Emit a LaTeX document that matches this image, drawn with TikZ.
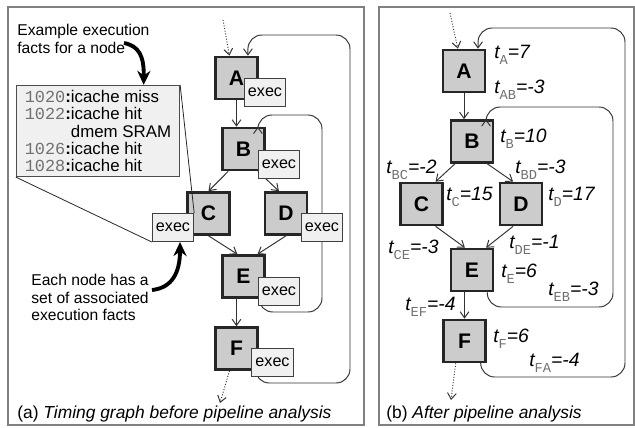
\documentclass[tikz,border=0pt]{standalone}
\usepackage{fontspec}
\setmainfont{Liberation Sans}
\setmonofont{Liberation Mono}
\usetikzlibrary{arrows.meta}
\definecolor{nodegray}{HTML}{CCCCCC}
\definecolor{execgray}{HTML}{F0F0F0}
\definecolor{framegray}{HTML}{808080}
\definecolor{subgray}{HTML}{707070}
\newcommand{\tval}[2]{\textit{t}\raisebox{-3.8pt}{\fontsize{7.8}{7.8}\selectfont\upshape\ttfamily\color{subgray}#1}\textit{=#2}}
\newcommand{\addr}[1]{{\ttfamily\color{subgray}#1}\textbf{:}}
\begin{document}
\begin{tikzpicture}[x=0.02cm, y=-0.02cm,
    frame/.style={draw=framegray, line width=0.8pt},
    blk/.style={draw=black!85, line width=1.4pt, fill=nodegray, minimum width=24pt, minimum height=24pt, inner sep=0pt, font=\fontsize{12}{12}\selectfont\bfseries},
    exe/.style={draw=black!75, line width=0.5pt, fill=execgray, minimum width=23.6pt, minimum height=16pt, inner sep=0pt, font=\fontsize{9.2}{9.2}\selectfont},
    edge/.style={draw=black!80, line width=0.55pt, -{Straight Barb[length=3.5pt,width=5pt]}},
    back/.style={edge, rounded corners=8pt},
    entry/.style={edge, densely dotted},
    tlab/.style={anchor=base west, inner sep=0pt, font=\fontsize{11}{11}\selectfont\itshape},
    note/.style={anchor=north west, inner sep=0pt, align=left, font=\fontsize{8.9}{9.9}\selectfont},
    infobox/.style={draw=black!70, line width=0.5pt, fill=execgray, minimum width=93pt, minimum height=52pt, inner sep=0pt, align=left, font=\fontsize{9.6}{9.9}\selectfont},
    callout/.style={draw=black!85, line width=0.45pt},
    hint/.style={line width=2.2pt, -{Stealth[length=8pt,width=7.5pt]}},
    caption/.style={anchor=base west, inner sep=0pt, font=\fontsize{9.9}{9.9}\selectfont}]
  \useasboundingbox (0,0) rectangle (635,427);

  % Frames
  \draw[frame] (8,7) rectangle (364,425);
  \draw[frame] (379,7) rectangle (634,425);

  % (a) Timing graph before pipeline analysis
  \node[blk] (A) at (236.5,78) {A};
  \node[blk] (B) at (243.5,149) {B};
  \node[blk] (C) at (208.5,213.5) {C};
  \node[blk] (D) at (286,213.5) {D};
  \node[blk] (E) at (243.5,276.5) {E};
  \node[blk] (F) at (236.5,348.5) {F};
  \coordinate (inA) at (223,20);
  \coordinate (outF) at (220,403);
  \coordinate (ia1) at (322,312);
  \coordinate (ia2) at (322,115);
  \coordinate (oa1) at (350,383);
  \coordinate (oa2) at (350,35);

  \draw[entry] (inA) -- ([xshift=-4pt]A.north);
  \draw[edge] (A.south) -- (A.south |- B.north);
  \draw[edge] ([xshift=4pt]B.south west) -- (C.north);
  \draw[edge] ([xshift=-4.5pt]B.south east) -- ([xshift=-4pt]D.north);
  \draw[edge] (C.south) -- ([xshift=-3.5pt]E.north);
  \draw[edge] (D.south) -- ([xshift=8pt]E.north);
  \draw[edge] (F.north |- E.south) -- (F.north);
  \draw[entry] ([xshift=-4pt]F.south) -- (outF);
  \draw[back] ([xshift=-4pt]E.south east) |- (ia1) -- (ia2) -| ([xshift=-4.5pt]B.north east);
  \draw[back] ([xshift=-2pt]F.south east) |- (oa1) -- (oa2) -| ([xshift=6.5pt]A.north);

  % execution facts
  \node[exe] (xA) at (265,92.5) {exec};
  \node[exe] (xB) at (279,164) {exec};
  \node[exe] (xC) at (173,227.5) {exec};
  \node[exe] (xD) at (322,227.5) {exec};
  \node[exe] (xE) at (279,291.5) {exec};
  \node[exe] (xF) at (272.5,362.5) {exec};

  \node[infobox] (info) at (98,131) {\addr{1020}icache miss\\
    \addr{1022}icache hit\\
    \phantom{\addr{1022}}dmem SRAM\\
    \addr{1026}icache hit\\
    \addr{1028}icache hit};
  \draw[callout] (info.north east) -- (xC.north east);
  \draw[callout] (info.south west) -- (xC.south west);

  % Annotations
  \node[note] (ex) at (17,24) {Example execution\\facts for a node};
  \coordinate (exTail) at (124,43);
  \draw[hint] (exTail) .. controls (139,46) and (144,56) .. ([xshift=26pt]info.north);
  \node[note] (each) at (31,274) {Each node has a\\set of associated\\execution facts};
  \coordinate (eachTail) at (152,290);
  \draw[hint] (eachTail) .. controls (171,288) and (180,274) .. ([xshift=4pt]xC.south);

  \node[caption] (capA) at (17,418) {(a) \textit{Timing graph before pipeline analysis}};

  % (b) After pipeline analysis
  \node[blk] (A2) at (464,71) {A};
  \node[blk] (B2) at (472,141.5) {B};
  \node[blk] (C2) at (421.5,204) {C};
  \node[blk] (D2) at (521,204) {D};
  \node[blk] (E2) at (472,270) {E};
  \node[blk] (F2) at (464.5,341) {F};
  \coordinate (inA2) at (450,13);
  \coordinate (outF2) at (451,400);
  \coordinate (ib1) at (613,307);
  \coordinate (ib2) at (613,107);
  \coordinate (ob1) at (625,377);
  \coordinate (ob2) at (625,28);

  \draw[entry] (inA2) -- ([xshift=-3.5pt]A2.north);
  \draw[edge] (A2.south) -- (A2.south |- B2.north);
  \draw[edge] ([xshift=3pt]B2.south west) -- ([xshift=8pt]C2.north);
  \draw[edge] ([xshift=-4pt]B2.south east) -- ([xshift=-4.5pt]D2.north);
  \draw[edge] ([xshift=8pt]C2.south) -- ([xshift=-4pt]E2.north);
  \draw[edge] ([xshift=-4.5pt]D2.south) -- ([xshift=8pt]E2.north);
  \draw[edge] (F2.north |- E2.south) -- (F2.north);
  \draw[entry] ([xshift=-5pt]F2.south) -- (outF2);
  \draw[back] ([xshift=-4pt]E2.south east) |- (ib1) -- (ib2) -| ([xshift=8pt]B2.north);
  \draw[back] ([xshift=-3.5pt]F2.south east) |- (ob1) -- (ob2) -| ([xshift=8pt]A2.north);

  % Timing values
  \node[tlab] (tA) at (494,58) {\tval{A}{7}};
  \node[tlab] (tAB) at (494,93) {\tval{AB}{-3}};
  \node[tlab] (tB) at (500,142) {\tval{B}{10}};
  \node[tlab] (tBC) at (386,173) {\tval{BC}{-2}};
  \node[tlab] (tBD) at (515,173) {\tval{BD}{-3}};
  \node[tlab] (tC) at (446,200) {\tval{C}{15}};
  \node[tlab] (tD) at (548,200) {\tval{D}{17}};
  \node[tlab] (tCE) at (388,253) {\tval{CE}{-3}};
  \node[tlab] (tDE) at (509,248) {\tval{DE}{-1}};
  \node[tlab] (tE) at (501,277) {\tval{E}{6}};
  \node[tlab] (tEB) at (548,295) {\tval{EB}{-3}};
  \node[tlab] (tEF) at (405,310) {\tval{EF}{-4}};
  \node[tlab] (tF) at (493,342) {\tval{F}{6}};
  \node[tlab] (tFA) at (529,366) {\tval{FA}{-4}};

  \node[caption] (capB) at (386,418) {(b) \textit{After pipeline analysis}};
\end{tikzpicture}
\end{document}
